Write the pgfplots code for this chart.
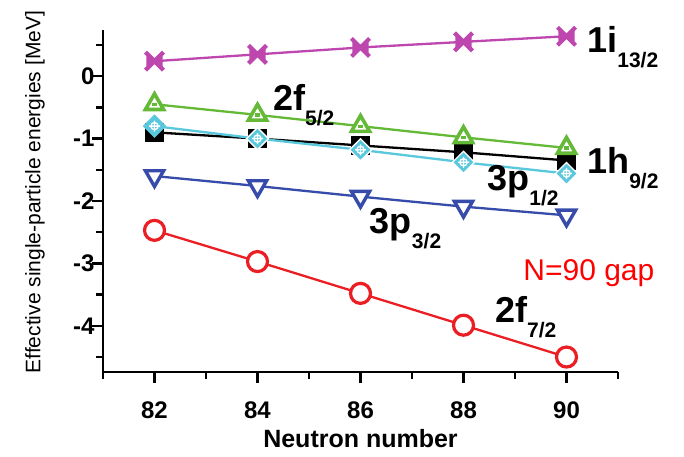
\documentclass[border=0pt]{standalone}
\usepackage{pgfplots}
\pgfplotsset{compat=1.18}
\usepackage{fontspec}
\setmainfont{Liberation Sans}
\definecolor{magc}{RGB}{190,70,175}
\definecolor{grnc}{RGB}{100,185,55}
\definecolor{cyac}{RGB}{90,200,220}
\definecolor{bluc}{RGB}{55,75,170}
\definecolor{redc}{RGB}{235,30,35}

\pgfdeclareplotmark{xcross}{%
  \pgfsetlinewidth{4.2pt}%
  \pgfpathmoveto{\pgfqpoint{-\pgfplotmarksize}{-\pgfplotmarksize}}%
  \pgfpathlineto{\pgfqpoint{\pgfplotmarksize}{\pgfplotmarksize}}%
  \pgfpathmoveto{\pgfqpoint{-\pgfplotmarksize}{\pgfplotmarksize}}%
  \pgfpathlineto{\pgfqpoint{\pgfplotmarksize}{-\pgfplotmarksize}}%
  \pgfusepathqstroke
  \pgfpathmoveto{\pgfqpoint{-.9\pgfplotmarksize}{.6\pgfplotmarksize}}%
  \pgfpathlineto{\pgfqpoint{.9\pgfplotmarksize}{-.6\pgfplotmarksize}}%
  \pgfpathlineto{\pgfqpoint{.9\pgfplotmarksize}{.6\pgfplotmarksize}}%
  \pgfpathlineto{\pgfqpoint{-.9\pgfplotmarksize}{-.6\pgfplotmarksize}}%
  \pgfpathclose
  \pgfusepathqfill
}
\pgfdeclareplotmark{tridash}{%
  \pgfpathmoveto{\pgfqpoint{0pt}{\pgfplotmarksize}}%
  \pgfpathlineto{\pgfqpoint{-.866\pgfplotmarksize}{-.5\pgfplotmarksize}}%
  \pgfpathlineto{\pgfqpoint{.866\pgfplotmarksize}{-.5\pgfplotmarksize}}%
  \pgfpathclose
  \pgfusepathqfillstroke
  \pgfpathmoveto{\pgfqpoint{-.22\pgfplotmarksize}{-.02\pgfplotmarksize}}%
  \pgfpathlineto{\pgfqpoint{.22\pgfplotmarksize}{-.02\pgfplotmarksize}}%
  \pgfusepathqstroke
}
\pgfdeclareplotmark{tridown}{%
  \pgfpathmoveto{\pgfqpoint{0pt}{-\pgfplotmarksize}}%
  \pgfpathlineto{\pgfqpoint{-.866\pgfplotmarksize}{.5\pgfplotmarksize}}%
  \pgfpathlineto{\pgfqpoint{.866\pgfplotmarksize}{.5\pgfplotmarksize}}%
  \pgfpathclose
  \pgfusepathqfillstroke
}
\pgfdeclareplotmark{diamcross}{%
  \pgfpathmoveto{\pgfqpoint{0pt}{\pgfplotmarksize}}%
  \pgfpathlineto{\pgfqpoint{\pgfplotmarksize}{0pt}}%
  \pgfpathlineto{\pgfqpoint{0pt}{-\pgfplotmarksize}}%
  \pgfpathlineto{\pgfqpoint{-\pgfplotmarksize}{0pt}}%
  \pgfpathclose
  \pgfusepathqfillstroke
  \pgfsetstrokecolor{white}%
  \pgfsetlinewidth{1.3pt}%
  \pgfpathcircle{\pgfpointorigin}{0.33\pgfplotmarksize}%
  \pgfpathmoveto{\pgfqpoint{-.5\pgfplotmarksize}{0pt}}%
  \pgfpathlineto{\pgfqpoint{.5\pgfplotmarksize}{0pt}}%
  \pgfpathmoveto{\pgfqpoint{0pt}{-.5\pgfplotmarksize}}%
  \pgfpathlineto{\pgfqpoint{0pt}{.5\pgfplotmarksize}}%
  \pgfusepathqstroke
}

\newcommand{\lab}[2]{\bfseries\fontsize{36}{36}\selectfont #1\raisebox{-15pt}{\fontsize{21}{21}\selectfont #2}}

\begin{document}
\begin{tikzpicture}
\begin{axis}[
  at={(0,0)}, anchor=south west,
  scale only axis, width=515pt, height=342pt,
  xmin=81, xmax=91, ymin=-4.74, ymax=0.74,
  axis x line=bottom, axis y line=left,
  axis line style={-, line width=2.6pt, black},
  xtick={82,84,86,88,90}, minor xtick={81,83,85,87,89,91},
  ytick={-4,-3,-2,-1,0}, minor ytick={-4.5,-3.5,-2.5,-1.5,-0.5,0.5},
  tick align=outside,
  major tick length=11pt, minor tick length=7pt,
  every tick/.style={line width=2.3pt, black},
  /pgf/number format/assume math mode=true,
  ticklabel style={font=\bfseries\fontsize{24}{24}\selectfont},
  xticklabel style={anchor=base, yshift=-35pt},
  yticklabel style={anchor=east, xshift=6pt},
  xlabel={Neutron number},
  xlabel style={font=\bfseries\fontsize{25}{25}\selectfont, at={(axis description cs:0.5,0)}, anchor=base, yshift=-75pt},
  ylabel={Effective single-particle energies [MeV]},
  ylabel style={font=\fontsize{21}{21}\selectfont, at={(axis description cs:-0.132,0.526)}, anchor=center},
  clip=false,
]
% 2f7/2
\addplot[redc, line width=2.3pt, mark=*, mark size=10pt, mark options={line width=3.2pt, fill=white, draw=redc}]
  coordinates {(82,-2.47) (84,-2.97) (86,-3.48) (88,-3.99) (90,-4.50)};
% 3p3/2
\addplot[bluc, line width=2.3pt, mark=tridown, mark size=10.5pt, mark options={line width=3.4pt, fill=white, draw=bluc}]
  coordinates {(82,-1.60) (84,-1.76) (86,-1.93) (88,-2.09) (90,-2.23)};
% 1h9/2
\addplot[black, line width=2.3pt, mark=square*, mark size=8pt, mark options={fill=black}]
  coordinates {(82,-0.90) (84,-1.00) (86,-1.11) (88,-1.22) (90,-1.35)};
% 3p1/2
\addplot[cyac, line width=2.3pt, mark=diamcross, mark size=11pt, mark options={line width=1pt, fill=cyac, draw=cyac}]
  coordinates {(82,-0.80) (84,-1.00) (86,-1.18) (88,-1.38) (90,-1.56)};
% 2f5/2
\addplot[grnc, line width=2.3pt, mark=tridash, mark size=10.5pt, mark options={line width=3.6pt, fill=white, draw=grnc}]
  coordinates {(82,-0.45) (84,-0.62) (86,-0.80) (88,-0.98) (90,-1.15)};
% 1i13/2
\addplot[magc, line width=2.3pt, mark=xcross, mark size=9pt, mark options={fill=magc, draw=magc}]
  coordinates {(82,0.24) (84,0.35) (86,0.46) (88,0.55) (90,0.64)};

\node[anchor=base west, inner sep=0pt] at (axis cs:90.40,0.385) {\lab{1i}{13/2}};
\node[anchor=base west, inner sep=0pt] at (axis cs:84.30,-0.545) {\lab{2f}{5/2}};
\node[anchor=base west, inner sep=0pt] at (axis cs:90.40,-1.555) {\lab{1h}{9/2}};
\node[anchor=base west, inner sep=0pt] at (axis cs:88.46,-1.83) {\lab{3p}{1/2}};
\node[anchor=base west, inner sep=0pt] at (axis cs:86.18,-2.52) {\lab{3p}{3/2}};
\node[anchor=base west, inner sep=0pt] at (axis cs:88.61,-3.94) {\lab{2f}{7/2}};
\node[anchor=base west, inner sep=0pt, text=red] at (axis cs:89.16,-3.27) {\fontsize{30}{30}\selectfont N=90 gap};
\end{axis}
\pgfresetboundingbox
\path (-103pt,-84pt) rectangle (581pt,372pt);
\end{tikzpicture}
\end{document}
